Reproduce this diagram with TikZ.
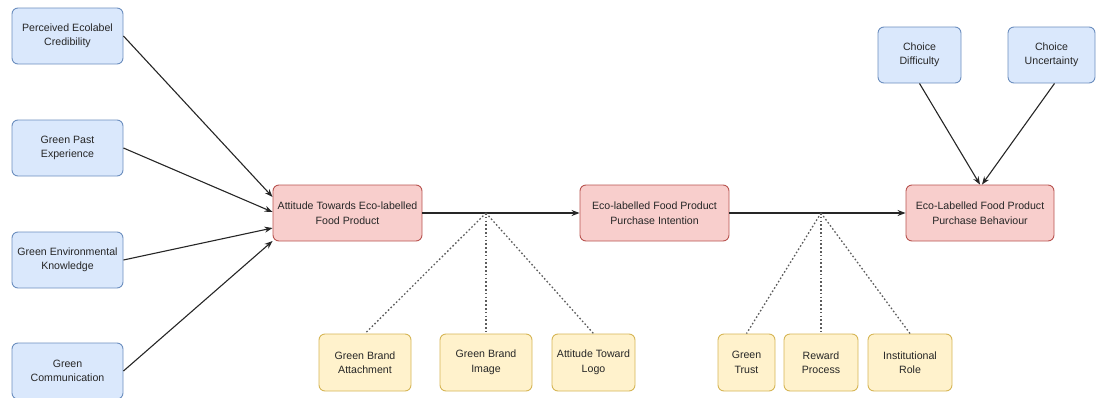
\documentclass[tikz,border=0pt]{standalone}
\usepackage{fontspec}
\setmainfont{Liberation Sans}
\usetikzlibrary{arrows.meta}
\definecolor{bluefill}{HTML}{DAE8FC}
\definecolor{blueline}{HTML}{6C8EBF}
\definecolor{redfill}{HTML}{F8CECC}
\definecolor{redline}{HTML}{B85450}
\definecolor{yelfill}{HTML}{FFF2CC}
\definecolor{yelline}{HTML}{D6B656}
\definecolor{ink}{HTML}{262626}
\tikzset{
  box/.style={rounded corners=6pt, line width=0.9pt, align=center, inner sep=1pt,
    font=\fontsize{10.6}{14.5}\selectfont, text=ink},
  bluebox/.style={box, fill=bluefill, draw=blueline},
  redbox/.style={box, fill=redfill, draw=redline},
  yelbox/.style={box, fill=yelfill, draw=yelline},
  link/.style={draw=ink, line width=1.1pt, -{Stealth[length=8pt,width=6pt]}},
  mediator/.style={draw=ink!75, line width=1.3pt, dash pattern=on 1.6pt off 2.2pt},
}
\begin{document}
\begin{tikzpicture}[x=1pt,y=-1pt]
\useasboundingbox (0,0) rectangle (1096,397);

% antecedents
\node[bluebox, minimum width=111pt, minimum height=56pt] (pec) at (67.5,36) {Perceived Ecolabel\\Credibility};
\node[bluebox, minimum width=111pt, minimum height=56pt] (gpe) at (67.5,148) {Green Past\\Experience};
\node[bluebox, minimum width=111pt, minimum height=56pt] (gek) at (67.5,260) {Green Environmental\\Knowledge};
\node[bluebox, minimum width=111pt, minimum height=56pt] (gc) at (67.5,371) {Green\\Communication};

% main chain
\node[redbox, minimum width=149pt, minimum height=56pt] (att) at (347.5,213) {Attitude Towards Eco-labelled\\Food Product};
\node[redbox, minimum width=149pt, minimum height=56pt] (pi) at (654.5,213) {Eco-labelled Food Product\\Purchase Intention};
\node[redbox, minimum width=148pt, minimum height=56pt] (pb) at (980,213) {Eco-Labelled Food Product\\Purchase Behaviour};

% choice factors
\node[bluebox, minimum width=83pt, minimum height=56pt] (cd) at (919.5,55) {Choice\\Difficulty};
\node[bluebox, minimum width=87pt, minimum height=56pt] (cu) at (1051.5,55) {Choice\\Uncertainty};

% moderators
\node[yelbox, minimum width=92pt, minimum height=57pt] (gba) at (365,362.5) {Green Brand\\Attachment};
\node[yelbox, minimum width=92pt, minimum height=57pt] (gbi) at (486,362.5) {Green Brand\\Image};
\node[yelbox, minimum width=83pt, minimum height=57pt] (atl) at (593.5,362.5) {Attitude Toward\\Logo};
\node[yelbox, minimum width=57pt, minimum height=57pt] (gt) at (746.5,362.5) {Green\\Trust};
\node[yelbox, minimum width=74pt, minimum height=57pt] (rp) at (821,362.5) {Reward\\Process};
\node[yelbox, minimum width=84pt, minimum height=57pt] (ir) at (910,362.5) {Institutional\\Role};

\coordinate (j1) at (486,213);
\coordinate (j2) at (821,213);

% arrows into attitude
\draw[link] (pec.east) -- ([yshift=16pt]att.west);
\draw[link] (gpe.east) -- ([yshift=1pt]att.west);
\draw[link] (gek.east) -- ([yshift=-15pt]att.west);
\draw[link] (gc.east) -- ([yshift=-28pt]att.west);

% chain arrows
\draw[link] (att.east) -- (pi.west);
\draw[link] (pi.east) -- (pb.west);

% choice arrows
\draw[link] (cd.south) -- ([xshift=0pt]pb.north);
\draw[link] ([xshift=3pt]cu.south) -- ([xshift=2pt]pb.north);

% moderator links
\draw[mediator] (j1) -- (gba.north);
\draw[mediator] (j1) -- (gbi.north);
\draw[mediator] (j1) -- (atl.north);
\draw[mediator] (j2) -- (gt.north);
\draw[mediator] (j2) -- (rp.north);
\draw[mediator] (j2) -- (ir.north);
\end{tikzpicture}
\end{document}
